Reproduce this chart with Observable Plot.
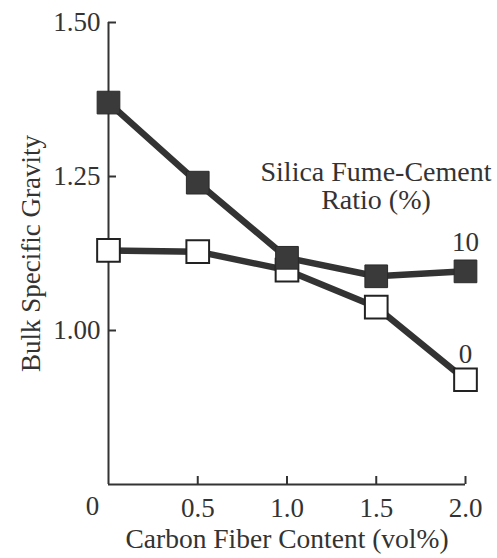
<!DOCTYPE html>
<html>
<head>
<meta charset="utf-8">
<script src="https://cdn.jsdelivr.net/npm/d3@7"></script>
<script src="https://cdn.jsdelivr.net/npm/@observablehq/plot@0.6"></script>
<style>
  html, body { margin: 0; padding: 0; background: #fff; }
</style>
</head>
<body>
<div id="chart"></div>
<script>
// Carbon fiber content (vol%)
const fiberContent = [0, 0.5, 1.0, 1.5, 2.0];
// Bulk specific gravity, silica fume-cement ratio 0 %
const ratio0 = [1.130, 1.128, 1.098, 1.038, 0.920];
// Bulk specific gravity, silica fume-cement ratio 10 %
const ratio10 = [1.370, 1.240, 1.118, 1.088, 1.096];
const seriesNames = ["0", "10"];
const xTicks = [0.5, 1.0, 1.5, 2.0];
const yTicks = [1.00, 1.25, 1.50];
const xDomain = [0, 2];
const yDomain = [0.75, 1.5];

const rows = [];
fiberContent.forEach((x, i) => {
  rows.push({series: seriesNames[0], x, y: ratio0[i]});
  rows.push({series: seriesNames[1], x, y: ratio10[i]});
});
const s0 = rows.filter(d => d.series === "0");
const s10 = rows.filter(d => d.series === "10");
const ink = "#333";
const ff = "Liberation Serif";

const chart = Plot.plot({
  width: 497,
  height: 558,
  marginLeft: 108,
  marginRight: 32,
  marginTop: 22,
  marginBottom: 74,
  x: {domain: xDomain},
  y: {domain: yDomain},
  style: {fontFamily: ff, fontSize: "27px", color: ink, background: "#fff"},
  marks: [
    Plot.ruleX([0], {stroke: ink, strokeWidth: 2}),
    Plot.ruleY([yDomain[0]], {stroke: ink, strokeWidth: 2}),
    Plot.axisY(yTicks, {tickSize: 0, tickPadding: 8, tickFormat: d => d.toFixed(2), fontSize: 27, fontFamily: ff,
      label: "Bulk Specific Gravity", labelAnchor: "center", labelOffset: 88, labelArrow: "none"}),
    Plot.axisY(yTicks, {tickSize: -8, tickFormat: () => "", label: null, strokeWidth: 2}),
    Plot.axisX(xTicks, {tickSize: 0, tickPadding: 13, tickFormat: d => d.toFixed(1), label: null, fontSize: 27, fontFamily: ff}),
    Plot.axisX(xTicks, {tickSize: -8, tickFormat: () => "", label: null, strokeWidth: 2}),
    Plot.text([xDomain[0]], {x: d => d, frameAnchor: "bottom", dx: -16, dy: 30, text: d => String(d), fontSize: 27, fontFamily: ff, fill: ink}),
    Plot.text(["Carbon Fiber Content (vol%)"], {frameAnchor: "bottom", dy: 63, fontSize: 27.5, fontFamily: ff, fill: ink}),
    Plot.text(["Silica Fume-Cement\nRatio (%)"], {frameAnchor: "top", dx: 89, dy: 139, lineHeight: 1, fontSize: 28, fontFamily: ff, fill: ink}),
    // series 0 (open squares)
    Plot.line(s0, {x: "x", y: "y", stroke: ink, strokeWidth: 6.5}),
    Plot.dot(s0, {x: "x", y: "y", symbol: "square", r: 12.8, fill: "#fff", stroke: "#222", strokeWidth: 2}),
    // series 10 (filled squares)
    Plot.line(s10, {x: "x", y: "y", stroke: ink, strokeWidth: 6.5}),
    Plot.dot(s10, {x: "x", y: "y", symbol: "square", r: 12.8, fill: "#3a3a3a", stroke: "#2a2a2a", strokeWidth: 1}),
    // series end labels
    Plot.text([s10[s10.length - 1]], {x: "x", y: "y", text: "series", dy: -29, fontSize: 27, fontFamily: ff, fill: ink}),
    Plot.text([s0[s0.length - 1]], {x: "x", y: "y", text: "series", dy: -25, fontSize: 27, fontFamily: ff, fill: ink})
  ]
});
document.getElementById("chart").appendChild(chart);
</script>
</body>
</html>
